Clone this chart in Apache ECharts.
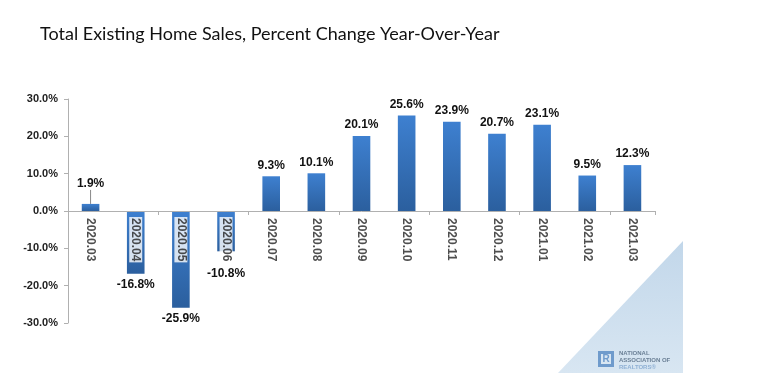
<!DOCTYPE html>
<html><head><meta charset="utf-8">
<script src="https://cdn.jsdelivr.net/npm/echarts@6/dist/echarts.min.js"></script>
<style>html,body{margin:0;padding:0;background:#fff}#c{width:779px;height:384px}</style>
</head><body><div id="c"></div>
<script>
var titleText = 'Total Existing Home Sales, Percent Change Year-Over-Year';
var categories = ['2020.03','2020.04','2020.05','2020.06','2020.07','2020.08','2020.09','2020.10','2020.11','2020.12','2021.01','2021.02','2021.03'];
var values = [1.9,-16.8,-25.9,-10.8,9.3,10.1,20.1,25.6,23.9,20.7,23.1,9.5,12.3];
var yTicks = [-30,-20,-10,0,10,20,30];

var chart = echarts.init(document.getElementById('c'));
var barColor = new echarts.graphic.LinearGradient(0,0,0,1,[{offset:0,color:'#3e80d0'},{offset:1,color:'#2b5f9e'}]);
var data = values.map(function(v,i){
  var d = {value:v, label:{position: v<0 ? 'bottom' : 'top'}};
  if(i===0){ d.labelLine = {show:true,lineStyle:{color:'#888',width:1}}; }
  return d;
});
var zeroPts = categories.map(function(c){ return [c,0]; });
chart.setOption({
  animation:false,
  title:{text:titleText,left:35,top:20,textStyle:{fontFamily:'Lato',fontWeight:'normal',fontSize:18,color:'#111'}},
  grid:{left:68,right:124,top:99,bottom:61},
  xAxis:{type:'category',data:categories,z:10,
    axisLine:{onZero:true,lineStyle:{color:'#b0b0b0',width:1}},
    axisTick:{show:true,length:4,lineStyle:{color:'#b0b0b0'}},
    axisLabel:{show:false}},
  yAxis:{type:'value',min:-30,max:30,interval:10,
    axisLine:{show:true,lineStyle:{color:'#b0b0b0'}},
    axisTick:{show:true,length:4,lineStyle:{color:'#b0b0b0'}},
    splitLine:{show:false},
    axisLabel:{fontFamily:'Liberation Sans',fontWeight:'bold',fontSize:11,color:'#222',margin:10,
      formatter:function(v){return v.toFixed(1)+'%';}}},
  series:[{type:'bar',data:data,barWidth:'39%',
    itemStyle:{color:barColor},
    label:{show:true,fontFamily:'Liberation Sans',fontWeight:'bold',fontSize:12,color:'#111',distance:5,
      formatter:function(p){return p.value.toFixed(1)+'%';}},
    labelLayout:function(p){
      if(p.dataIndex===0){return {dy:-9};}
      if(p.dataIndex===3){return {dy:11};}
      return {};
    }
  },{type:'scatter',data:zeroPts,symbolSize:0,z:5,silent:true,
    label:{show:true,position:'bottom',distance:6,rotate:-90,align:'left',verticalAlign:'middle',
      fontFamily:'Liberation Sans',fontWeight:'bold',fontSize:12,color:'#222',backgroundColor:'#fff',padding:[1,1,0,1],
      formatter:function(p){return p.value[0];}}
  }],
  graphic:[
    {type:'polygon',shape:{points:[[683,241],[683,373],[558,373]]},z:-1,
      style:{fill:new echarts.graphic.LinearGradient(0,0,0,1,[{offset:0,color:'#c2d7ea'},{offset:1,color:'#d8e6f2'}])}},
    {type:'rect',shape:{x:598,y:351,width:16,height:16},style:{fill:'#6f9bcc'}},
    {type:'rect',shape:{x:601,y:354,width:10,height:10},style:{fill:'#d8e6f2'}},
    {type:'text',style:{x:606,y:359,text:'R',fill:'#6f9bcc',font:'bold 10px Liberation Sans',align:'center',verticalAlign:'middle'}},
    {type:'text',style:{x:619,y:350,text:'NATIONAL\nASSOCIATION OF',fill:'#6a7f95',font:'bold 6px Liberation Sans',lineHeight:7}},
    {type:'text',style:{x:619,y:364,text:'REALTORS®',fill:'#8fb0d4',font:'bold 6px Liberation Sans'}}
  ]
});
</script></body></html>
